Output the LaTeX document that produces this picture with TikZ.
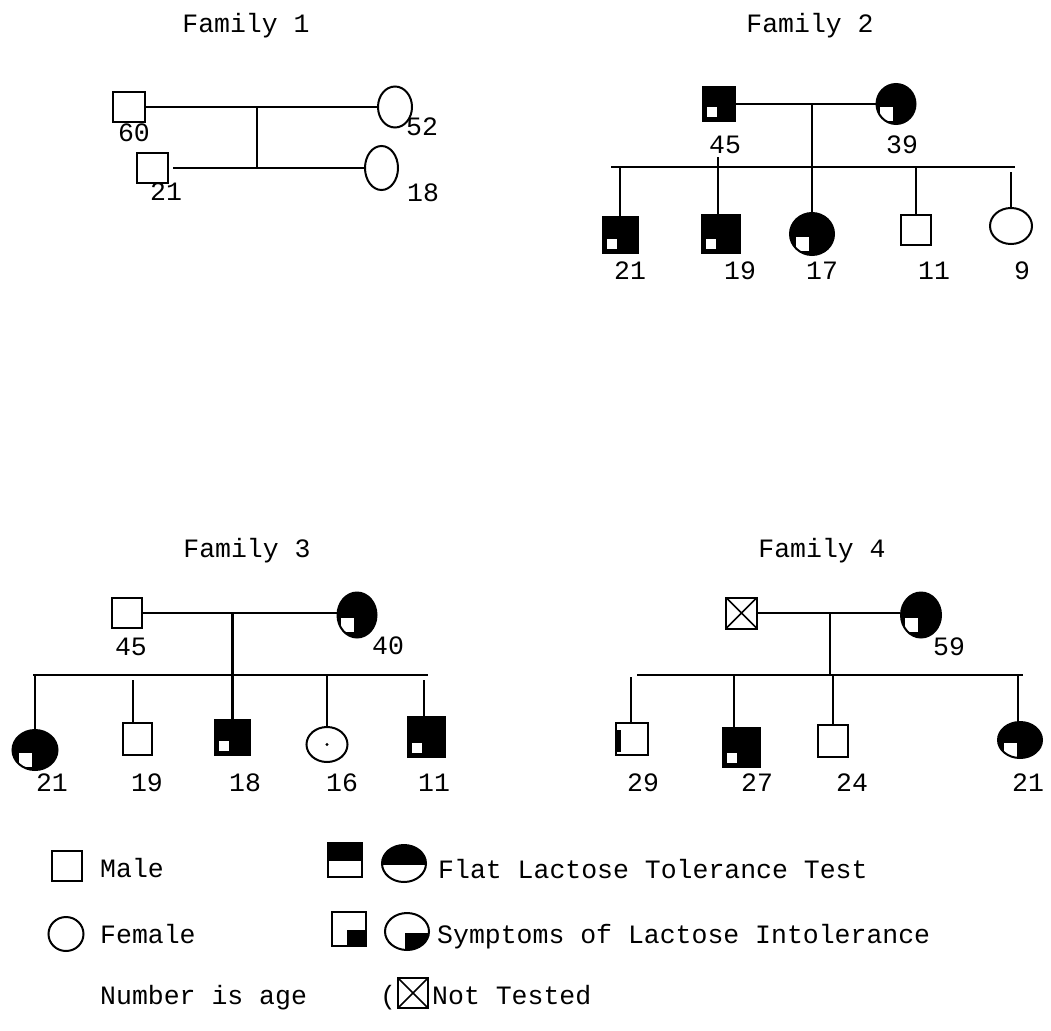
\documentclass[tikz,border=0pt]{standalone}
\usepackage{fontspec}
\setmainfont{Liberation Mono}
\usetikzlibrary{shapes.geometric,calc}
\newcommand\pedfont{\fontsize{26.5}{30}\selectfont}
\begin{document}
\begin{tikzpicture}[x=1pt,y=-1pt,
  lw/.style={line width=2.2pt},
  txt/.style={inner sep=0pt,font=\pedfont},
  sqbox/.style n args={2}{draw,line width=2pt,rectangle,inner sep=0pt,minimum width=#1,minimum height=#2},
  ovbox/.style n args={2}{draw,line width=2pt,ellipse,inner sep=0pt,minimum width=#1,minimum height=#2},
  bothsq/.style={fill=black,path picture={\fill[white] ($(path picture bounding box.south west)+(4pt,4pt)$) rectangle +(10pt,10pt);}},
  bothov/.style={fill=black,path picture={\fill[white] ($(path picture bounding box.center)+(-16pt,-3pt)$) rectangle +(13pt,-14pt);}},
  flatfill/.style={path picture={\fill[black] (path picture bounding box.north west) rectangle ($(path picture bounding box.east)+(0pt,-1pt)$);}},
  sympfill/.style={path picture={\fill[black] ($(path picture bounding box.center)+(-2pt,-1pt)$) rectangle (path picture bounding box.south east);}},
  nottested/.style={path picture={\draw[line width=1.6pt] (path picture bounding box.north west) -- (path picture bounding box.south east) (path picture bounding box.north east) -- (path picture bounding box.south west);}},
  leftstrip/.style={path picture={\fill[black] ($(path picture bounding box.south west)+(0pt,3pt)$) rectangle +(5pt,22pt);}},
  dotted/.style={path picture={\fill[black] (path picture bounding box.center) circle (1.6pt);}}
]
\useasboundingbox (0,0) rectangle (1051,1030);

% ---------------- Family 1
\node[txt,anchor=base] (t1) at (246,33) {Family 1};
\node[sqbox={32}{30}] (f1m) at (129,107) {};
\node[ovbox={34}{41}] (f1f) at (395,107) {};
\node[sqbox={31}{30}] (f1s) at (152.5,168) {};
\node[ovbox={33}{44}] (f1d) at (381.5,168) {};
\node[txt] (f1a1) at (134,133) {60};
\node[txt] (f1a2) at (422,127) {52};
\node[txt] (f1a3) at (166,192) {21};
\node[txt] (f1a4) at (423,193) {18};
\coordinate (f1mid) at (257,107);
\coordinate (f1j) at (257,168);
\coordinate (f1ls) at ($(f1s.east)+(4,0)$);
\draw[lw] (f1m.east) -- (f1f.west);
\draw[lw] (f1mid) -- (f1j);
\draw[lw] (f1ls) -- (f1d.west);

% ---------------- Family 2
\node[txt,anchor=base] (t2) at (810,33) {Family 2};
\node[sqbox={32}{34},bothsq] (f2m) at (719,104) {};
\node[ovbox={39}{40},bothov] (f2f) at (896,104) {};
\node[sqbox={35}{36},bothsq] (f2c1) at (620,235) {};
\node[sqbox={38}{38},bothsq] (f2c2) at (721,234) {};
\node[ovbox={44}{42},bothov] (f2c3) at (812,234) {};
\node[sqbox={30}{30}] (f2c4) at (916,230) {};
\node[ovbox={42}{36}] (f2c5) at (1011,226) {};
\node[txt] (f2a1) at (725,145) {45};
\node[txt] (f2a2) at (902,145) {39};
\node[txt] (f2a3) at (630,271) {21};
\node[txt] (f2a4) at (740,271) {19};
\node[txt] (f2a5) at (822,271) {17};
\node[txt] (f2a6) at (934,271) {11};
\node[txt] (f2a7) at (1022,271) {9};
\coordinate (f2mid) at (812,104);
\coordinate (f2sl) at (611,167);
\coordinate (f2sr) at (1015,167);
\coordinate (f2c2top) at (718,157);
\coordinate (f2c5top) at (1011,172);
\draw[lw] (f2m.east) -- (f2f.west);
\draw[lw] (f2mid) -- (f2c3.north);
\draw[lw] (f2sl) -- (f2sr);
\draw[lw] (f2c1.north) -- (f2c1.north |- f2sl);
\draw[lw] (f2c2top) -- (f2c2top |- f2c2.north);
\draw[lw] (f2c4.north) -- (f2c4.north |- f2sl);
\draw[lw] (f2c5top) -- (f2c5.north);

% ---------------- Family 3
\node[txt,anchor=base] (t3) at (247,557) {Family 3};
\node[sqbox={30}{30}] (f3m) at (127,613) {};
\node[ovbox={39}{45},bothov] (f3f) at (357,615) {};
\node[ovbox={45}{40},bothov] (f3c1) at (35,750) {};
\node[sqbox={29}{32}] (f3c2) at (137.5,739) {};
\node[sqbox={35}{35},bothsq] (f3c3) at (232.5,737.5) {};
\node[ovbox={41}{35},dotted] (f3c4) at (327,744.5) {};
\node[sqbox={37}{40},bothsq] (f3c5) at (426.5,737) {};
\node[txt] (f3a1) at (131,647) {45};
\node[txt] (f3a2) at (388,646) {40};
\node[txt] (f3a3) at (52,783) {21};
\node[txt] (f3a4) at (147,783) {19};
\node[txt] (f3a5) at (245,783) {18};
\node[txt] (f3a6) at (342,783) {16};
\node[txt] (f3a7) at (434,783) {11};
\coordinate (f3mid) at (232.5,613);
\coordinate (f3sl) at (33,675);
\coordinate (f3sr) at (428,675);
\coordinate (f3c2top) at (133,680);
\coordinate (f3c5top) at (424,680);
\draw[lw] (f3m.east) -- (f3f.west |- f3m.east);
\draw[lw] (f3mid) -- (f3mid |- f3c3.north);
\draw[lw] (f3sl) -- (f3sr);
\draw[lw] (f3c1.north) -- (f3c1.north |- f3sl);
\draw[lw] (f3c2top) -- (f3c2top |- f3c2.north);
\draw[lw] (f3c4.north) -- (f3c4.north |- f3sl);
\draw[lw] (f3c5top) -- (f3c5top |- f3c5.north);

% ---------------- Family 4
\node[txt,anchor=base] (t4) at (822,557) {Family 4};
\node[sqbox={31}{31},nottested] (f4m) at (741.5,613) {};
\node[ovbox={40}{45},bothov] (f4f) at (921,615) {};
\node[sqbox={32}{32},leftstrip] (f4c1) at (632,739) {};
\node[sqbox={37}{39},bothsq] (f4c2) at (741.5,747.5) {};
\node[sqbox={30}{32}] (f4c3) at (833,741) {};
\node[ovbox={44}{36},bothov] (f4c4) at (1020,740) {};
\node[txt] (f4a1) at (949,647) {59};
\node[txt] (f4a2) at (643,783) {29};
\node[txt] (f4a3) at (757,783) {27};
\node[txt] (f4a4) at (852,783) {24};
\node[txt] (f4a5) at (1028,783) {21};
\coordinate (f4mid) at (830,613);
\coordinate (f4sl) at (637,675);
\coordinate (f4sr) at (1023,675);
\coordinate (f4c1top) at (631,677);
\coordinate (f4c2top) at (734,675);
\coordinate (f4c4top) at (1018,675);
\draw[lw] (f4m.east) -- (f4f.west |- f4m.east);
\draw[lw] (f4mid) -- (f4mid |- f4sl);
\draw[lw] (f4sl) -- (f4sr);
\draw[lw] (f4c1top) -- (f4c1top |- f4c1.north);
\draw[lw] (f4c2top) -- (f4c2top |- f4c2.north);
\draw[lw] (f4c3.north) -- (f4c3.north |- f4sl);
\draw[lw] (f4c4top) -- (f4c4top |- f4c4.north);

% ---------------- Legend
\node[sqbox={30}{30}] (lgm) at (67,866) {};
\node[txt,anchor=base west] (lgmt) at (100,877) {Male};
\node[ovbox={35}{34}] (lgf) at (66,934) {};
\node[txt,anchor=base west] (lgft) at (100,943) {Female};
\node[txt,anchor=base west] (lgnt) at (100,1004) {Number is age};

\node[sqbox={34}{34},flatfill] (lgs1) at (345,860) {};
\node[ovbox={44}{37},flatfill] (lgo1) at (404,863.5) {};
\node[txt,anchor=base west] (lgt1) at (438,878) {Flat Lactose Tolerance Test};

\node[sqbox={34}{34},sympfill] (lgs2) at (349,929) {};
\node[ovbox={44}{37},sympfill] (lgo2) at (407,931.5) {};
\node[txt,anchor=base west] (lgt2) at (437,943) {Symptoms of Lactose Intolerance};

\node[txt,anchor=base] (lgpar) at (388,1004) {(};
\node[sqbox={30}{30},nottested] (lgx) at (413,993) {};
\node[txt,anchor=base west] (lgt3) at (432,1004) {Not Tested};
\end{tikzpicture}
\end{document}
